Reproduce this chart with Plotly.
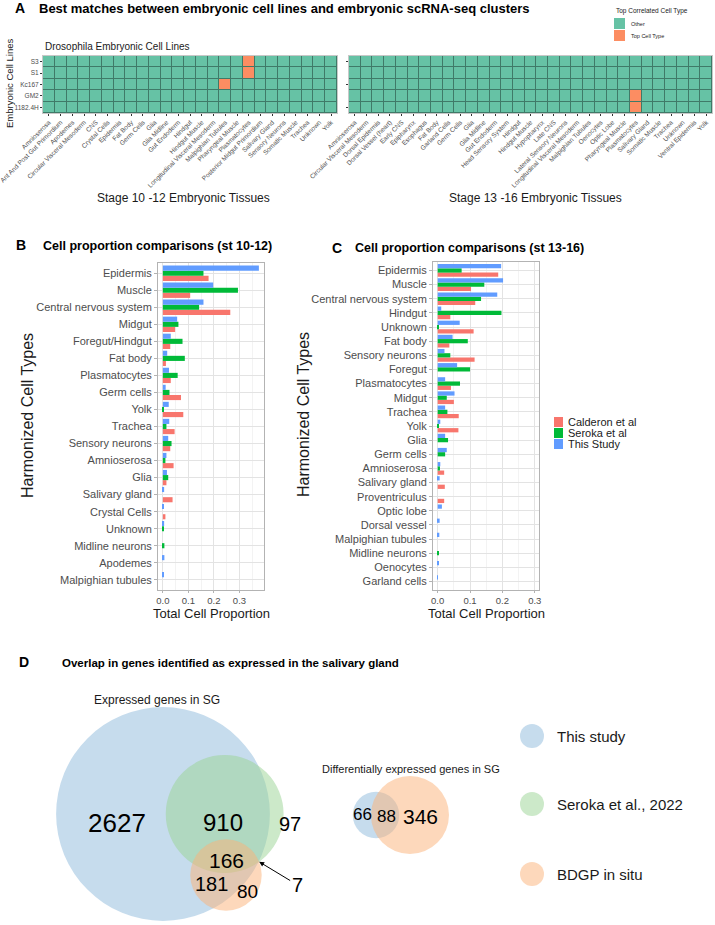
import math
import plotly.graph_objects as go

W, H = 715, 925
FONT = "Liberation Sans, Arial, sans-serif"

# ---- panel A: best matching cluster per cell line ----
cell_lines = ["S3", "S1", "Kc167", "GM2", "1182.4H"]
tissues_st10_12 = ["Amnioserosa", "Ant And Post Gut Primordium", "Apodemes", "Circular Visceral Mesoderm",
                   "CNS", "Crystal Cells", "Epidermis", "Fat Body", "Germ Cells", "Glia", "Glia Midline",
                   "Gut Endoderm", "Hindgut", "Hindgut Muscle", "Longitudinal Visceral Mesoderm",
                   "Malpighian Tubules", "Pharyngeal Muscle", "Plasmatocytes", "Posterior Midgut Primordium",
                   "Salivary Gland", "Sensory Neurons", "Somatic Muscle", "Trachea", "Unknown", "Yolk"]
tissues_st13_16 = ["Amnioserosa", "Circular Visceral Mesoderm", "Dorsal Epidermis", "Dorsal Vessel (heart)",
                   "Early CNS", "Epipharynx", "Esophagus", "Fat Body", "Garland Cells", "Germ Cells", "Glia",
                   "Glia Midline", "Gut Endoderm", "Head Sensory System", "Hindgut", "Hindgut Muscle",
                   "Hypopharynx", "Late CNS", "Lateral Sensory Neurons", "Longitudinal Visceral Mesoderm",
                   "Malpighian Tubules", "Oenocytes", "Optic Lobe", "Pharyngeal Muscle", "Plasmatocytes",
                   "Salivary Gland", "Somatic Muscle", "Trachea", "Unknown", "Ventral Epidermis", "Yolk"]
top_st10_12 = [("S3", "Plasmatocytes"), ("S1", "Plasmatocytes"), ("Kc167", "Malpighian Tubules")]
top_st13_16 = [("GM2", "Plasmatocytes"), ("1182.4H", "Plasmatocytes")]

# ---- panel B: stage 10-12 proportions ----
b_types = ["Epidermis", "Muscle", "Central nervous system", "Midgut", "Foregut/Hindgut", "Fat body",
           "Plasmatocytes", "Germ cells", "Yolk", "Trachea", "Sensory neurons", "Amnioserosa", "Glia",
           "Salivary gland", "Crystal Cells", "Unknown", "Midline neurons", "Apodemes", "Malpighian tubules"]
b_this = [0.376, 0.197, 0.159, 0.056, 0.031, 0.017, 0.024, 0.011, 0.023, 0.025, 0.021, 0.014, 0.016,
          0.005, 0.003, 0.005, 0, 0.006, 0.002]
b_seroka = [0.159, 0.294, 0.142, 0.061, 0.077, 0.086, 0.058, 0.026, 0.003, 0.014, 0.034, 0.010, 0.021,
            0, 0, 0.003, 0.006, 0, 0]
b_calderon = [0.179, 0.107, 0.264, 0.048, 0.029, 0.012, 0.031, 0.071, 0.080, 0.046, 0.029, 0.042, 0.014,
              0.038, 0.010, 0, 0, 0, 0]

# ---- panel C: stage 13-16 proportions ----
c_types = ["Epidermis", "Muscle", "Central nervous system", "Hindgut", "Unknown", "Fat body",
           "Sensory neurons", "Foregut", "Plasmatocytes", "Midgut", "Trachea", "Yolk", "Glia", "Germ cells",
           "Amnioserosa", "Salivary gland", "Proventriculus", "Optic lobe", "Dorsal vessel",
           "Malpighian tubules", "Midline neurons", "Oenocytes", "Garland cells"]
c_this = [0.196, 0.202, 0.184, 0.011, 0.068, 0.046, 0.021, 0.060, 0.023, 0.052, 0.023, 0.008, 0.023,
          0.028, 0.008, 0.006, 0, 0.013, 0.006, 0.005, 0, 0.002, 0.0005]
c_seroka = [0.074, 0.144, 0.134, 0.197, 0.004, 0.093, 0.039, 0.100, 0.069, 0.028, 0.030, 0.004, 0.032,
            0.023, 0.007, 0, 0, 0, 0, 0, 0.004, 0, 0]
c_calderon = [0.187, 0.103, 0.116, 0.039, 0.111, 0.036, 0.114, 0, 0.041, 0.050, 0.065, 0.064, 0,
              0, 0.020, 0.022, 0.020, 0, 0, 0, 0, 0, 0]

datasets = ["Calderon et al", "Seroka et al", "This Study"]
ds_colors = ["#F8766D", "#00BA38", "#619CFF"]

# ---- panel D: venn region counts ----
expr_this_only = 2627
expr_this_seroka = 910
expr_seroka_only = 97
expr_all = 166
expr_this_bdgp = 181
expr_bdgp_only = 80
expr_seroka_bdgp = 7
de_this_only = 66
de_both = 88
de_bdgp_only = 346
venn_names = ["This study", "Seroka et al., 2022", "BDGP in situ"]
venn_colors = ["#8DB9DB", "#99D494", "#FBB278"]


# pixel -> paper fraction
def px(x):
    return x / W


def py(y):
    return 1 - y / H


def overlap_area(r1, r2, d):
    if d >= r1 + r2:
        return 0.0
    if d <= abs(r1 - r2):
        return math.pi * min(r1, r2) ** 2
    a = r1 ** 2 * math.acos((d * d + r1 * r1 - r2 * r2) / (2 * d * r1))
    b = r2 ** 2 * math.acos((d * d + r2 * r2 - r1 * r1) / (2 * d * r2))
    c = 0.5 * math.sqrt((-d + r1 + r2) * (d + r1 - r2) * (d - r1 + r2) * (d + r1 + r2))
    return a + b - c


def centre_distance(r1, r2, target):
    lo, hi = abs(r1 - r2), r1 + r2
    for _ in range(80):
        mid = (lo + hi) / 2
        if overlap_area(r1, r2, mid) > target:
            lo = mid
        else:
            hi = mid
    return (lo + hi) / 2


def radius(n):
    return math.sqrt(n / math.pi)


fig = go.Figure()

# heatmaps
hm_scale = [[0, "#66C2A5"], [1, "#FC8D62"]]
for i, (tissues, top) in enumerate([(tissues_st10_12, top_st10_12), (tissues_st13_16, top_st13_16)]):
    z = [[1 if (cl, t) in top else 0 for t in tissues] for cl in cell_lines]
    ax = "" if i == 0 else "2"
    fig.add_trace(go.Heatmap(z=z, x=tissues, y=cell_lines, xaxis="x" + ax, yaxis="y" + ax,
                             colorscale=hm_scale, zmin=0, zmax=1, showscale=False, xgap=1, ygap=1,
                             hoverinfo="x+y"))
    fig.add_shape(type="rect", xref="x" + ax, yref="y" + ax, x0=-0.5, x1=len(tissues) - 0.5,
                  y0=-0.5, y1=len(cell_lines) - 0.5, fillcolor="#3f7a68", line_width=0, layer="below")

# grouped bars
for ax, types, series in [("3", b_types, [b_calderon, b_seroka, b_this]),
                          ("4", c_types, [c_calderon, c_seroka, c_this])]:
    for name, col, vals in zip(datasets, ds_colors, series):
        fig.add_trace(go.Bar(y=types, x=vals, orientation="h", name=name, marker_color=col,
                             marker_line_width=0, xaxis="x" + ax, yaxis="y" + ax, showlegend=False))

# venn: expressed genes (area proportional)
n_this = expr_this_only + expr_this_seroka + expr_all + expr_this_bdgp
n_seroka = expr_seroka_only + expr_this_seroka + expr_all + expr_seroka_bdgp
n_bdgp = expr_bdgp_only + expr_this_bdgp + expr_all + expr_seroka_bdgp
r_t, r_s, r_b = radius(n_this), radius(n_seroka), radius(n_bdgp)
d_ts = centre_distance(r_t, r_s, expr_this_seroka + expr_all)
d_tb = centre_distance(r_t, r_b, expr_this_bdgp + expr_all)
d_sb = centre_distance(r_s, r_b, expr_seroka_bdgp + expr_all)
k1 = 3.04
ox, oy = 163, 814
ct = (ox, oy)
cs = (ox + k1 * d_ts, oy)
bx = (d_tb ** 2 - d_sb ** 2 + d_ts ** 2) / (2 * d_ts)
by = math.sqrt(max(d_tb ** 2 - bx ** 2, 0))
cb = (ox + k1 * bx, oy + k1 * by)
left_circles = [(ct, k1 * r_t), (cs, k1 * r_s), (cb, k1 * r_b)]
for (c, r), col in zip(left_circles, venn_colors):
    fig.add_shape(type="circle", xref="x5", yref="y5", x0=c[0] - r, x1=c[0] + r, y0=c[1] - r, y1=c[1] + r,
                  fillcolor=col, opacity=0.5, line_width=0)

# venn: differentially expressed genes
n_de_this = de_this_only + de_both
n_de_bdgp = de_bdgp_only + de_both
k2 = 3.32
rt2, rb2 = radius(n_de_this), radius(n_de_bdgp)
d2 = centre_distance(rt2, rb2, de_both)
ct2 = (376, 815)
cb2 = (ct2[0] + k2 * d2, ct2[1])
for (c, r), col in zip([(ct2, k2 * rt2), (cb2, k2 * rb2)], [venn_colors[0], venn_colors[2]]):
    fig.add_shape(type="circle", xref="x5", yref="y5", x0=c[0] - r, x1=c[0] + r, y0=c[1] - r, y1=c[1] + r,
                  fillcolor=col, opacity=0.5, line_width=0)

# arrow target: outer intersection of Seroka and BDGP circles
gx, gy = cs
rs_px, rb_px = k1 * r_s, k1 * r_b
dx, dy = cb[0] - gx, cb[1] - gy
dd = math.hypot(dx, dy)
a = (dd ** 2 + rs_px ** 2 - rb_px ** 2) / (2 * dd)
h = math.sqrt(max(rs_px ** 2 - a ** 2, 0))
mx, my = gx + a * dx / dd, gy + a * dy / dd
tip = max([(mx + h * dy / dd, my - h * dx / dd), (mx - h * dy / dd, my + h * dx / dd)], key=lambda p: p[0])

ann = []


def text(x, y, s, size, color="#000000", xanchor="center", bold=False, angle=0, ref="paper"):
    if bold:
        s = "<b>" + s + "</b>"
    if ref == "paper":
        ann.append(dict(x=px(x), y=py(y), xref="paper", yref="paper", text=s, showarrow=False,
                        xanchor=xanchor, yanchor="middle", textangle=angle,
                        font=dict(size=size, color=color, family=FONT)))
    else:
        ann.append(dict(x=x, y=y, xref="x5", yref="y5", text=s, showarrow=False,
                        xanchor=xanchor, yanchor="middle", font=dict(size=size, color=color, family=FONT)))


# titles
text(13, 8, "A", 14, bold=True, xanchor="left")
text(37, 8, "Best matches between embryonic cell lines and embryonic scRNA-seq clusters", 13, bold=True,
     xanchor="left")
text(43, 46, "Drosophila Embryonic Cell Lines", 10, color="#1a1a1a", xanchor="left")
text(10, 84, "Embryonic Cell Lines", 9.5, color="#1a1a1a", angle=-90)
text(183, 198, "Stage 10 -12 Embryonic Tissues", 12, color="#1a1a1a")
text(535, 198, "Stage 13 -16 Embryonic Tissues", 12, color="#1a1a1a")
text(614, 11, "Top Correlated Cell Type", 6.5, color="#1a1a1a", xanchor="left")
text(629, 24, "Other", 5.5, color="#1a1a1a", xanchor="left")
text(629, 36, "Top Cell Type", 5.5, color="#1a1a1a", xanchor="left")

text(14, 245, "B", 14, bold=True, xanchor="left")
text(41, 246, "Cell proportion comparisons (st 10-12)", 12.5, bold=True, xanchor="left")
text(330, 248, "C", 14, bold=True, xanchor="left")
text(353, 248, "Cell proportion comparisons (st 13-16)", 12.5, bold=True, xanchor="left")
text(27, 416, "Harmonized Cell Types", 16, color="#1a1a1a", angle=-90)
text(303, 415, "Harmonized Cell Types", 16, color="#1a1a1a", angle=-90)
text(211, 613, "Total Cell Proportion", 13, color="#1a1a1a")
text(486, 613, "Total Cell Proportion", 13, color="#1a1a1a")
for i, name in enumerate(datasets):
    text(566, 422 + 11 * i, name, 11, color="#1a1a1a", xanchor="left")

text(17, 662, "D", 14, bold=True, xanchor="left")
text(60, 663, "Overlap in genes identified as expressed in the salivary gland", 11.5, bold=True,
     xanchor="left")
text(157, 700, "Expressed genes in SG", 12, color="#1a1a1a")
text(411, 769, "Differentially expressed genes in SG", 11, color="#1a1a1a")

# venn labels
text(ct[0] - 46, ct[1] + 9, str(expr_this_only), 26, ref="x5")
text(cs[0] - 2, cs[1] + 8, str(expr_this_seroka), 24, ref="x5")
text(cs[0] + 65, cs[1] + 10, str(expr_seroka_only), 20, ref="x5")
text(cb[0] + 1, cb[1] - 15, str(expr_all), 21, ref="x5")
text(cb[0] - 14, cb[1] + 9, str(expr_this_bdgp), 20, ref="x5")
text(cb[0] + 22, cb[1] + 16, str(expr_bdgp_only), 19, ref="x5")
ann.append(dict(x=tip[0], y=tip[1], xref="x5", yref="y5", ax=tip[0] + 38, ay=tip[1] + 23,
                axref="x5", ayref="y5", text=str(expr_seroka_bdgp), showarrow=True, arrowhead=2,
                arrowsize=1, arrowwidth=1, arrowcolor="#000000", font=dict(size=20, family=FONT, color="#000")))
text(ct2[0] - 14, ct2[1] - 1, str(de_this_only), 17, ref="x5")
text(ct2[0] + 10, ct2[1] + 1, str(de_both), 17, ref="x5")
text(cb2[0] + 11, cb2[1] + 1, str(de_bdgp_only), 21, ref="x5")

for i, name in enumerate(venn_names):
    yy = [736, 804, 874][i]
    fig.add_shape(type="circle", xref="x5", yref="y5", x0=520, x1=544, y0=yy - 12, y1=yy + 12,
                  fillcolor=venn_colors[i], opacity=0.5, line_width=0)
    text(555, yy, name, 15, color="#1a1a1a", xanchor="left")

# legend swatches
fig.add_shape(type="rect", xref="paper", yref="paper", x0=px(614), x1=px(625), y0=py(29), y1=py(18),
              fillcolor="#66C2A5", line_width=0)
fig.add_shape(type="rect", xref="paper", yref="paper", x0=px(614), x1=px(625), y0=py(41), y1=py(30),
              fillcolor="#FC8D62", line_width=0)
for i, col in enumerate(ds_colors):
    y0 = 417 + 11 * i
    fig.add_shape(type="rect", xref="paper", yref="paper", x0=px(554), x1=px(563), y0=py(y0 + 10), y1=py(y0),
                  fillcolor=col, line_width=0)

hm_x = dict(tickangle=-45, tickfont=dict(size=6.5, color="#4d4d4d"), ticks="outside", ticklen=2,
            tickcolor="#333333", showline=True, mirror=True, linecolor="#c8c8c8", showgrid=False,
            automargin=False)
hm_y = dict(tickfont=dict(size=6.5, color="#4d4d4d"), ticks="outside", ticklen=2, tickcolor="#333333",
            showline=True, mirror=True, linecolor="#c8c8c8", showgrid=False, type="category",
            categoryorder="array", categoryarray=cell_lines[::-1], automargin=False)
bar_x = dict(tickvals=[0, 0.1, 0.2, 0.3], ticktext=["0.0", "0.1", "0.2", "0.3"],
             tickfont=dict(size=9.5, color="#4d4d4d"), ticks="outside", ticklen=2, tickcolor="#b3b3b3",
             showgrid=True, gridcolor="#e3e3e3", zeroline=False, showline=True, mirror=True,
             linecolor="#b3b3b3", automargin=False,
             minor=dict(tickvals=[0.05, 0.15, 0.25, 0.35], showgrid=True, gridcolor="#f3f3f3"))
bar_y = dict(tickfont=dict(size=11, color="#4d4d4d"), ticks="outside", ticklen=3, tickcolor="#b3b3b3",
             showgrid=True, gridcolor="#e3e3e3", showline=True, mirror=True, linecolor="#b3b3b3",
             type="category", categoryorder="array", automargin=False)

# venn axes map pixels 1:1
v_frac = 0.3
fig.update_layout(
    width=W, height=H, margin=dict(l=0, r=0, t=0, b=0, autoexpand=False),
    paper_bgcolor="white", plot_bgcolor="white",
    font=dict(family=FONT, color="#1a1a1a"),
    showlegend=False, barmode="group", bargap=0.1, bargroupgap=0,
    xaxis=dict(domain=[px(43), px(337)], anchor="y", tickvals=tissues_st10_12, **hm_x),
    yaxis=dict(domain=[py(113), py(56)], anchor="x", **hm_y),
    xaxis2=dict(domain=[px(349), px(712)], anchor="y2", tickvals=tissues_st13_16, **hm_x),
    yaxis2=dict(domain=[py(113), py(56)], anchor="x2", showticklabels=False, **hm_y),
    xaxis3=dict(domain=[px(158), px(264)], anchor="y3", range=[-0.019, 0.396], **bar_x),
    yaxis3=dict(domain=[py(590), py(263)], anchor="x3", categoryarray=b_types[::-1],
                range=[-0.6, len(b_types) - 0.4], **bar_y),
    xaxis4=dict(domain=[px(433), px(539)], anchor="y4", range=[-0.0145, 0.313], **bar_x),
    yaxis4=dict(domain=[py(590), py(262)], anchor="x4", categoryarray=c_types[::-1],
                range=[-0.6, len(c_types) - 0.4], **bar_y),
    xaxis5=dict(domain=[0, 1], anchor="y5", range=[0, W], visible=False, automargin=False),
    yaxis5=dict(domain=[0, v_frac], anchor="x5", range=[H, H * (1 - v_frac)],
                visible=False, automargin=False),
    annotations=ann,
)

# drop the default 8px body margin so the figure fills the window; hide the modebar
fig.write_html("out.html", config={"displayModeBar": False},
               post_script="document.body.style.margin='0px';")
